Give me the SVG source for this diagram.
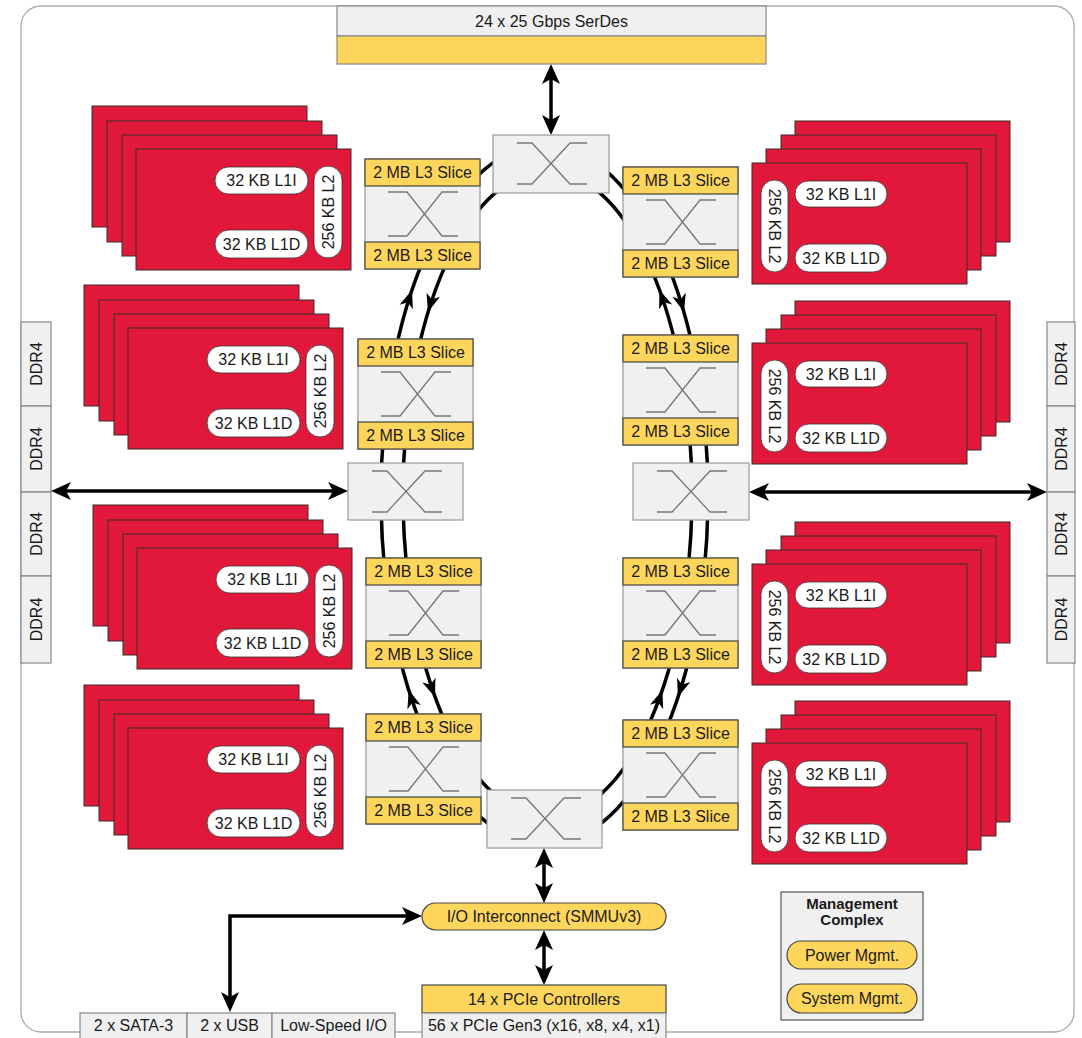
<svg xmlns="http://www.w3.org/2000/svg" width="1082" height="1038" viewBox="0 0 1082 1038">
<style>
.t{font-family:"Liberation Sans",Arial,sans-serif;font-size:16px;fill:#1a1a1a;text-anchor:middle}
.b{font-weight:bold;font-size:15px}
.card{fill:#E2183A;stroke:#3a2a2a;stroke-width:1}
.pill{fill:#fff;stroke:#333;stroke-width:0.8}
.yel{fill:#FFD65C;stroke:#444;stroke-width:1.2}
.gry{fill:#F0F0F0;stroke:#999;stroke-width:1.2}
.gbox{fill:#F0F0F0;stroke:#555;stroke-width:1.2}
.x{fill:none;stroke:#777;stroke-width:1.3}
.ring{fill:none;stroke:#000;stroke-width:3.5}
.arr{fill:none;stroke:#000;stroke-width:3.5;marker-start:url(#ah);marker-end:url(#ah)}
</style>
<defs>
<marker id="ah" markerUnits="userSpaceOnUse" viewBox="0 0 20 18" markerWidth="20" markerHeight="18" refX="12" refY="9" orient="auto-start-reverse"><path d="M0,0 L20,9 L0,18 L5,9 Z" fill="#000"/></marker>
<path id="rh" d="M0,0 L7,18 L0,13 L-7,18 Z" fill="#000"/>
</defs>
<rect x="0" y="0" width="1082" height="1038" fill="#fff"/>
<rect id="frame" x="21" y="6" width="1053" height="1026" rx="20" fill="#fff" stroke="#aaa" stroke-width="1.3"/>

<g id="connectors">
<ellipse class="ring" cx="544.5" cy="495" rx="163.5" ry="350"/>
<ellipse class="ring" cx="547.5" cy="494" rx="144.5" ry="323"/>
<use href="#rh" transform="translate(412,290) rotate(18.7)"/>
<use href="#rh" transform="translate(428,312) rotate(197)"/>
<use href="#rh" transform="translate(659.5,290) rotate(-20)"/>
<use href="#rh" transform="translate(684,312) rotate(164)"/>
<use href="#rh" transform="translate(408.7,690) rotate(-17.4)"/>
<use href="#rh" transform="translate(435,697) rotate(160)"/>
<use href="#rh" transform="translate(662.4,690) rotate(18.9)"/>
<use href="#rh" transform="translate(678,697) rotate(198.3)"/>
<path class="arr" d="M551,72 V127"/>
<path class="arr" d="M59,491 H340"/>
<path class="arr" d="M757,492 H1039"/>
<path class="arr" d="M544,856 V895"/>
<path class="arr" d="M544,938 V977"/>
<path class="arr" d="M230,1004 V916 H414"/>
</g>

<g id="serdes">
<rect class="gry" x="337" y="6" width="429" height="30" style="stroke:#888"/>
<rect class="yel" x="337" y="36" width="429" height="28" style="stroke:#888"/>
<text class="t" x="551.5" y="26.5">24 x 25 Gbps SerDes</text>
</g>

<g id="ddr4-left">
<rect class="gry" x="21" y="322" width="30" height="84" style="stroke:#888"/>
<rect class="gry" x="21" y="406" width="30" height="86" style="stroke:#888"/>
<rect class="gry" x="21" y="492" width="30" height="84" style="stroke:#888"/>
<rect class="gry" x="21" y="576" width="30" height="87" style="stroke:#888"/>
<text class="t" transform="translate(36,364) rotate(-90)" y="5.5">DDR4</text>
<text class="t" transform="translate(36,449) rotate(-90)" y="5.5">DDR4</text>
<text class="t" transform="translate(36,534) rotate(-90)" y="5.5">DDR4</text>
<text class="t" transform="translate(36,619.5) rotate(-90)" y="5.5">DDR4</text>
</g>
<g id="ddr4-right">
<rect class="gry" x="1047" y="322" width="28" height="84" style="stroke:#888"/>
<rect class="gry" x="1047" y="406" width="28" height="86" style="stroke:#888"/>
<rect class="gry" x="1047" y="492" width="28" height="84" style="stroke:#888"/>
<rect class="gry" x="1047" y="576" width="28" height="87" style="stroke:#888"/>
<text class="t" transform="translate(1061,364) rotate(-90)" y="5.5">DDR4</text>
<text class="t" transform="translate(1061,449) rotate(-90)" y="5.5">DDR4</text>
<text class="t" transform="translate(1061,534) rotate(-90)" y="5.5">DDR4</text>
<text class="t" transform="translate(1061,619.5) rotate(-90)" y="5.5">DDR4</text>
</g>

<g id="cores-l1" transform="translate(136,149)">
<rect class="card" x="-44" y="-43" width="215" height="121"/>
<rect class="card" x="-29" y="-28" width="215" height="121"/>
<rect class="card" x="-14" y="-14" width="215" height="121"/>
<rect class="card" x="0" y="0" width="215" height="121"/>
<rect class="pill" x="79" y="18" width="93" height="27" rx="13.5"/>
<text class="t" x="125.5" y="37">32 KB L1I</text>
<rect class="pill" x="79" y="81" width="93" height="28" rx="14"/>
<text class="t" x="125.5" y="100.5">32 KB L1D</text>
<rect class="pill" x="178" y="17" width="28" height="92" rx="14"/>
<text class="t" transform="translate(192,63) rotate(-90)" y="5.5">256 KB L2</text>
</g>
<g id="cores-l2" transform="translate(128,328)">
<rect class="card" x="-44" y="-43" width="215" height="121"/>
<rect class="card" x="-29" y="-28" width="215" height="121"/>
<rect class="card" x="-14" y="-14" width="215" height="121"/>
<rect class="card" x="0" y="0" width="215" height="121"/>
<rect class="pill" x="79" y="18" width="93" height="27" rx="13.5"/>
<text class="t" x="125.5" y="37">32 KB L1I</text>
<rect class="pill" x="79" y="81" width="93" height="28" rx="14"/>
<text class="t" x="125.5" y="100.5">32 KB L1D</text>
<rect class="pill" x="178" y="17" width="28" height="92" rx="14"/>
<text class="t" transform="translate(192,63) rotate(-90)" y="5.5">256 KB L2</text>
</g>
<g id="cores-l3" transform="translate(137,548)">
<rect class="card" x="-44" y="-43" width="215" height="121"/>
<rect class="card" x="-29" y="-28" width="215" height="121"/>
<rect class="card" x="-14" y="-14" width="215" height="121"/>
<rect class="card" x="0" y="0" width="215" height="121"/>
<rect class="pill" x="79" y="18" width="93" height="27" rx="13.5"/>
<text class="t" x="125.5" y="37">32 KB L1I</text>
<rect class="pill" x="79" y="81" width="93" height="28" rx="14"/>
<text class="t" x="125.5" y="100.5">32 KB L1D</text>
<rect class="pill" x="178" y="17" width="28" height="92" rx="14"/>
<text class="t" transform="translate(192,63) rotate(-90)" y="5.5">256 KB L2</text>
</g>
<g id="cores-l4" transform="translate(128,728)">
<rect class="card" x="-44" y="-43" width="215" height="121"/>
<rect class="card" x="-29" y="-28" width="215" height="121"/>
<rect class="card" x="-14" y="-14" width="215" height="121"/>
<rect class="card" x="0" y="0" width="215" height="121"/>
<rect class="pill" x="79" y="18" width="93" height="27" rx="13.5"/>
<text class="t" x="125.5" y="37">32 KB L1I</text>
<rect class="pill" x="79" y="81" width="93" height="28" rx="14"/>
<text class="t" x="125.5" y="100.5">32 KB L1D</text>
<rect class="pill" x="178" y="17" width="28" height="92" rx="14"/>
<text class="t" transform="translate(192,63) rotate(-90)" y="5.5">256 KB L2</text>
</g>

<g id="cores-r1" transform="translate(752,163)">
<rect class="card" x="43" y="-42" width="215" height="121"/>
<rect class="card" x="29" y="-28" width="215" height="121"/>
<rect class="card" x="14" y="-14" width="215" height="121"/>
<rect class="card" x="0" y="0" width="215" height="121"/>
<rect class="pill" x="9" y="17" width="27" height="92" rx="13.5"/>
<text class="t" transform="translate(22.5,63) rotate(90)" y="5.5">256 KB L2</text>
<rect class="pill" x="43" y="18" width="92" height="26" rx="13"/>
<text class="t" x="89" y="36.5">32 KB L1I</text>
<rect class="pill" x="43" y="81" width="92" height="28" rx="14"/>
<text class="t" x="89" y="100.5">32 KB L1D</text>
</g>
<g id="cores-r2" transform="translate(752,343)">
<rect class="card" x="43" y="-42" width="215" height="121"/>
<rect class="card" x="29" y="-28" width="215" height="121"/>
<rect class="card" x="14" y="-14" width="215" height="121"/>
<rect class="card" x="0" y="0" width="215" height="121"/>
<rect class="pill" x="9" y="17" width="27" height="92" rx="13.5"/>
<text class="t" transform="translate(22.5,63) rotate(90)" y="5.5">256 KB L2</text>
<rect class="pill" x="43" y="18" width="92" height="26" rx="13"/>
<text class="t" x="89" y="36.5">32 KB L1I</text>
<rect class="pill" x="43" y="81" width="92" height="28" rx="14"/>
<text class="t" x="89" y="100.5">32 KB L1D</text>
</g>
<g id="cores-r3" transform="translate(752,564)">
<rect class="card" x="43" y="-42" width="215" height="121"/>
<rect class="card" x="29" y="-28" width="215" height="121"/>
<rect class="card" x="14" y="-14" width="215" height="121"/>
<rect class="card" x="0" y="0" width="215" height="121"/>
<rect class="pill" x="9" y="17" width="27" height="92" rx="13.5"/>
<text class="t" transform="translate(22.5,63) rotate(90)" y="5.5">256 KB L2</text>
<rect class="pill" x="43" y="18" width="92" height="26" rx="13"/>
<text class="t" x="89" y="36.5">32 KB L1I</text>
<rect class="pill" x="43" y="81" width="92" height="28" rx="14"/>
<text class="t" x="89" y="100.5">32 KB L1D</text>
</g>
<g id="cores-r4" transform="translate(752,743)">
<rect class="card" x="43" y="-42" width="215" height="121"/>
<rect class="card" x="29" y="-28" width="215" height="121"/>
<rect class="card" x="14" y="-14" width="215" height="121"/>
<rect class="card" x="0" y="0" width="215" height="121"/>
<rect class="pill" x="9" y="17" width="27" height="92" rx="13.5"/>
<text class="t" transform="translate(22.5,63) rotate(90)" y="5.5">256 KB L2</text>
<rect class="pill" x="43" y="18" width="92" height="26" rx="13"/>
<text class="t" x="89" y="36.5">32 KB L1I</text>
<rect class="pill" x="43" y="81" width="92" height="28" rx="14"/>
<text class="t" x="89" y="100.5">32 KB L1D</text>
</g>

<g id="l3-l1" transform="translate(365,159)">
<rect class="gry" x="0" y="0" width="115" height="110"/>
<path class="x" d="M23,33 H42 L77,77 H93 M23,77 H42 L77,33 H93"/>
<rect class="yel" x="0" y="0" width="115" height="27"/>
<rect class="yel" x="0" y="83" width="115" height="27"/>
<text class="t" x="57.5" y="19">2 MB L3 Slice</text>
<text class="t" x="57.5" y="102">2 MB L3 Slice</text>
</g>
<g id="l3-l2" transform="translate(358,339)">
<rect class="gry" x="0" y="0" width="115" height="110"/>
<path class="x" d="M23,33 H42 L77,77 H93 M23,77 H42 L77,33 H93"/>
<rect class="yel" x="0" y="0" width="115" height="27"/>
<rect class="yel" x="0" y="83" width="115" height="27"/>
<text class="t" x="57.5" y="19">2 MB L3 Slice</text>
<text class="t" x="57.5" y="102">2 MB L3 Slice</text>
</g>
<g id="l3-l3" transform="translate(366,558)">
<rect class="gry" x="0" y="0" width="115" height="110"/>
<path class="x" d="M23,33 H42 L77,77 H93 M23,77 H42 L77,33 H93"/>
<rect class="yel" x="0" y="0" width="115" height="27"/>
<rect class="yel" x="0" y="83" width="115" height="27"/>
<text class="t" x="57.5" y="19">2 MB L3 Slice</text>
<text class="t" x="57.5" y="102">2 MB L3 Slice</text>
</g>
<g id="l3-l4" transform="translate(366,714)">
<rect class="gry" x="0" y="0" width="115" height="110"/>
<path class="x" d="M23,33 H42 L77,77 H93 M23,77 H42 L77,33 H93"/>
<rect class="yel" x="0" y="0" width="115" height="27"/>
<rect class="yel" x="0" y="83" width="115" height="27"/>
<text class="t" x="57.5" y="19">2 MB L3 Slice</text>
<text class="t" x="57.5" y="102">2 MB L3 Slice</text>
</g>
<g id="l3-r1" transform="translate(623,167)">
<rect class="gry" x="0" y="0" width="115" height="110"/>
<path class="x" d="M23,33 H42 L77,77 H93 M23,77 H42 L77,33 H93"/>
<rect class="yel" x="0" y="0" width="115" height="27"/>
<rect class="yel" x="0" y="83" width="115" height="27"/>
<text class="t" x="57.5" y="19">2 MB L3 Slice</text>
<text class="t" x="57.5" y="102">2 MB L3 Slice</text>
</g>
<g id="l3-r2" transform="translate(623,335)">
<rect class="gry" x="0" y="0" width="115" height="110"/>
<path class="x" d="M23,33 H42 L77,77 H93 M23,77 H42 L77,33 H93"/>
<rect class="yel" x="0" y="0" width="115" height="27"/>
<rect class="yel" x="0" y="83" width="115" height="27"/>
<text class="t" x="57.5" y="19">2 MB L3 Slice</text>
<text class="t" x="57.5" y="102">2 MB L3 Slice</text>
</g>
<g id="l3-r3" transform="translate(623,558)">
<rect class="gry" x="0" y="0" width="115" height="110"/>
<path class="x" d="M23,33 H42 L77,77 H93 M23,77 H42 L77,33 H93"/>
<rect class="yel" x="0" y="0" width="115" height="27"/>
<rect class="yel" x="0" y="83" width="115" height="27"/>
<text class="t" x="57.5" y="19">2 MB L3 Slice</text>
<text class="t" x="57.5" y="102">2 MB L3 Slice</text>
</g>
<g id="l3-r4" transform="translate(623,720)">
<rect class="gry" x="0" y="0" width="115" height="110"/>
<path class="x" d="M23,33 H42 L77,77 H93 M23,77 H42 L77,33 H93"/>
<rect class="yel" x="0" y="0" width="115" height="27"/>
<rect class="yel" x="0" y="83" width="115" height="27"/>
<text class="t" x="57.5" y="19">2 MB L3 Slice</text>
<text class="t" x="57.5" y="102">2 MB L3 Slice</text>
</g>

<g id="sw-top" transform="translate(493,135)">
<rect class="gry" x="0" y="0" width="116" height="58"/>
<path class="x" d="M24,8 H39 L77,49 H94 M24,49 H39 L77,8 H94"/>
</g>
<g id="sw-left" transform="translate(348,463)">
<rect class="gry" x="0" y="0" width="115" height="57"/>
<path class="x" d="M24,8 H39 L77,49 H94 M24,49 H39 L77,8 H94"/>
</g>
<g id="sw-right" transform="translate(633,463)">
<rect class="gry" x="0" y="0" width="116" height="57"/>
<path class="x" d="M24,8 H39 L77,49 H94 M24,49 H39 L77,8 H94"/>
</g>
<g id="sw-bottom" transform="translate(487,790)">
<rect class="gry" x="0" y="0" width="115" height="58"/>
<path class="x" d="M24,8 H39 L77,49 H94 M24,49 H39 L77,8 H94"/>
</g>

<g id="io-interconnect">
<rect class="yel" x="422" y="903" width="244" height="27" rx="13.5"/>
<text class="t" x="544" y="922">I/O Interconnect (SMMUv3)</text>
</g>
<g id="pcie">
<rect class="yel" x="422" y="985" width="244" height="28"/>
<rect class="gry" x="422" y="1013" width="244" height="30" style="stroke:#888"/>
<text class="t" x="544" y="1004.5">14 x PCIe Controllers</text>
<text class="t" x="544" y="1031">56 x PCIe Gen3 (x16, x8, x4, x1)</text>
</g>
<g id="low-speed-io">
<rect class="gry" x="80" y="1013" width="107" height="30" style="stroke:#888"/>
<rect class="gry" x="187" y="1013" width="85" height="30" style="stroke:#888"/>
<rect class="gry" x="272" y="1013" width="123" height="30" style="stroke:#888"/>
<text class="t" x="133.5" y="1031">2 x SATA-3</text>
<text class="t" x="229.5" y="1031">2 x USB</text>
<text class="t" x="333.5" y="1031">Low-Speed I/O</text>
</g>
<g id="management">
<rect class="gbox" x="781" y="892" width="142" height="128"/>
<text class="t b" x="852" y="908.5">Management</text>
<text class="t b" x="852" y="924.5">Complex</text>
<rect class="yel" x="787" y="941" width="130" height="28" rx="14"/>
<text class="t" x="852" y="960.5">Power Mgmt.</text>
<rect class="yel" x="787" y="984" width="130" height="29" rx="14.5"/>
<text class="t" x="852" y="1004">System Mgmt.</text>
</g>
</svg>
